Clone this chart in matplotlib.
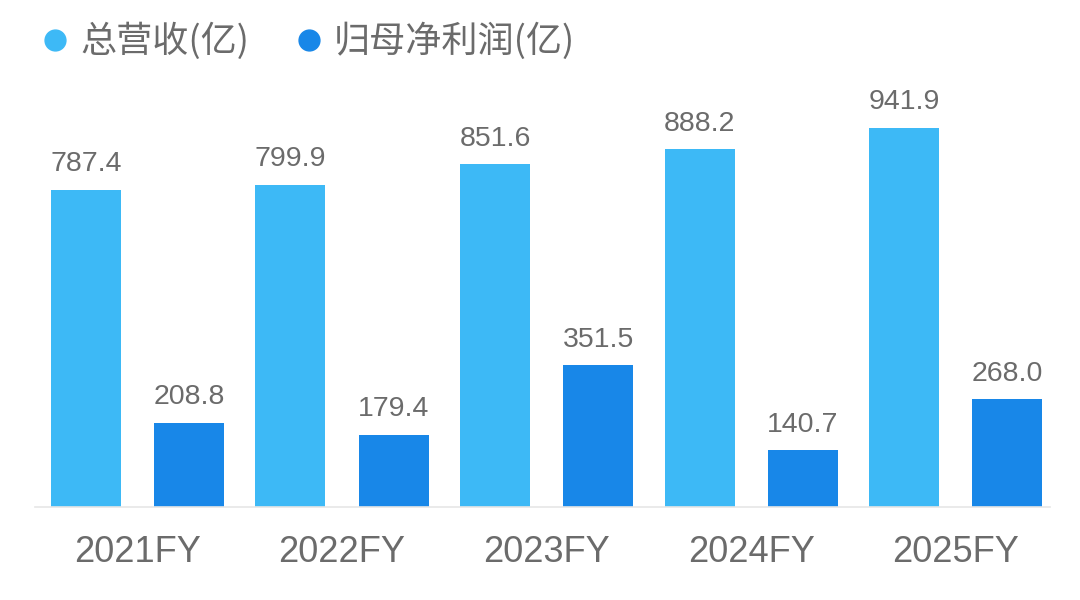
import matplotlib.pyplot as plt
import numpy as np
from matplotlib.lines import Line2D

plt.rcParams['font.family'] = ['Liberation Sans', 'Noto Sans CJK SC', 'DejaVu Sans']

years = ['2021FY', '2022FY', '2023FY', '2024FY', '2025FY']
revenue = [787.4, 799.9, 851.6, 888.2, 941.9]
net_profit = [208.8, 179.4, 351.5, 140.7, 268.0]
series_names = ['总营收(亿)', '归母净利润(亿)']

c_rev = '#3DB9F6'
c_np = '#1887E8'
grey = '#6b6b6b'

fig = plt.figure(figsize=(10.8, 6), dpi=100)
ax = fig.add_axes([35/1080, 1 - 507/600, (1050-35)/1080, (507-60)/600])

x = np.arange(len(years))
w = 0.342
off = 0.252
b1 = ax.bar(x - off, revenue, w, color=c_rev)
b2 = ax.bar(x + off, net_profit, w, color=c_np)

for bars, vals in ((b1, revenue), (b2, net_profit)):
    for rect, v in zip(bars, vals):
        ax.annotate(f'{v:.1f}', (rect.get_x() + rect.get_width()/2, v),
                    xytext=(0, 9), textcoords='offset points',
                    ha='center', va='bottom', fontsize=20.5, color=grey)

ax.set_xlim(-0.5, 4.46)
ax.set_ylim(0, 447/0.4026)
ax.set_xticks(x)
ax.set_xticklabels(years, fontsize=26, color=grey)
ax.tick_params(axis='x', length=0, pad=20)
ax.set_yticks([])
for s in ['top', 'right', 'left']:
    ax.spines[s].set_visible(False)
ax.spines['bottom'].set_color('#e6e6e6')
ax.spines['bottom'].set_linewidth(1.2)

handles = [Line2D([], [], marker='o', ls='', ms=15, color=c) for c in (c_rev, c_np)]
fig.legend(handles, series_names, loc='upper left', bbox_to_anchor=(37/1080, 1 - 23/600),
           ncol=2, frameon=False, labelcolor=grey, borderaxespad=0, borderpad=0,
           handletextpad=0.2, columnspacing=1.15, handlelength=1.0,
           prop={'family': ['Noto Sans CJK SC', 'DejaVu Sans'], 'size': 26})

fig.savefig('out.png', dpi=100, facecolor='white')
